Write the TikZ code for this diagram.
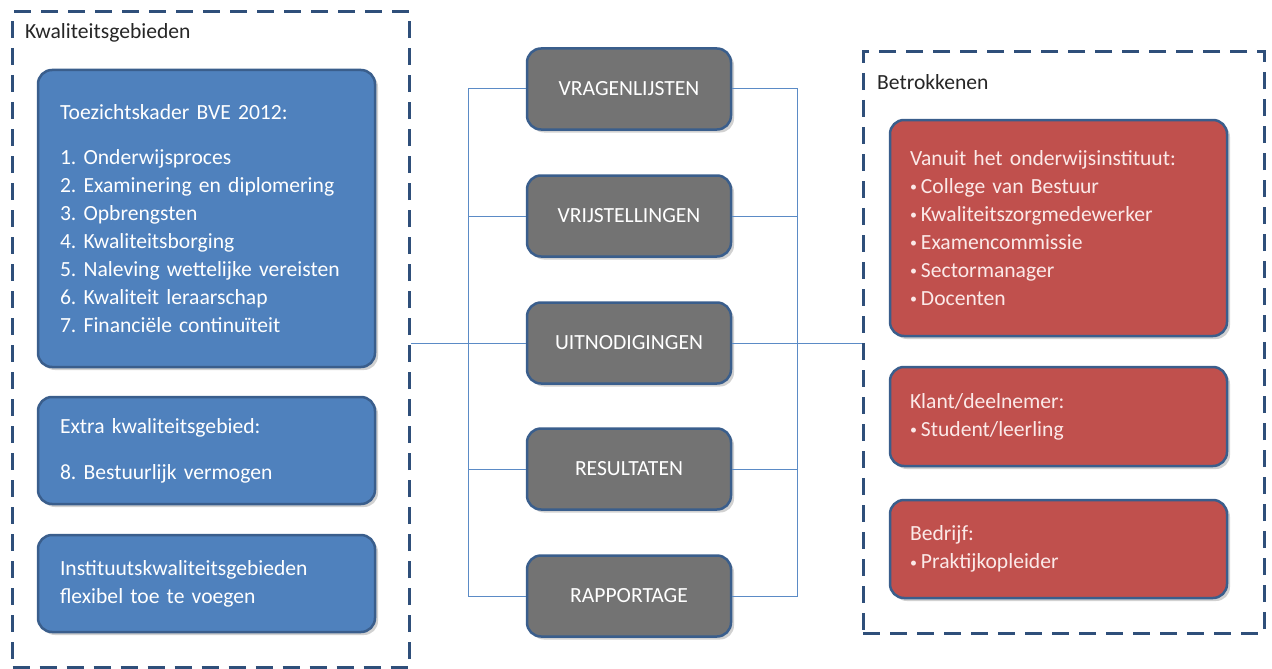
\documentclass[tikz,border=0pt]{standalone}
\usepackage{fontspec}
\setmainfont{Carlito}
\usetikzlibrary{shadows}
\frenchspacing
\definecolor{bfill}{HTML}{4F81BD}
\definecolor{bdraw}{HTML}{3A5E8C}
\definecolor{gfill}{HTML}{737373}
\definecolor{rfill}{HTML}{C0504D}
\definecolor{rtext}{HTML}{FBE9E8}
\definecolor{framec}{HTML}{2F4F7A}
\definecolor{connc}{HTML}{5B8BC6}
\newcommand\bul{{\fontsize{14}{14}\selectfont\raisebox{1.5pt}{•}}\hspace{4pt}}
\tikzset{
  boxbase/.style={draw=bdraw, line width=2.5pt, rounded corners=14pt, inner sep=0pt,
    drop shadow={shadow xshift=3pt, shadow yshift=-3pt, opacity=0.3, fill=black!60}},
  bluebox/.style={boxbase, fill=bfill, text=white, align=left, font=\fontsize{21.6}{28}\selectfont},
  redbox/.style={boxbase, fill=rfill, text=rtext, align=left, font=\fontsize{21.6}{28}\selectfont},
  graybox/.style={boxbase, fill=gfill, text=white, align=center, font=\fontsize{21.6}{24}\selectfont,
    minimum width=204pt, minimum height=81pt},
  framebox/.style={draw=framec, line width=3pt, dash pattern=on 17pt off 10pt, inner sep=0pt},
  conn/.style={draw=connc, line width=1pt},
  header/.style={anchor=west, text=black!85, font=\fontsize{21.6}{24}\selectfont, inner sep=0pt}
}
\begin{document}
\begin{tikzpicture}[x=1pt,y=-1pt]
\useasboundingbox (0,0) rectangle (1272,669);
% frames
\node[framebox, minimum width=397pt, minimum height=655pt] (lframe) at (211,339.5) {};
\node[framebox, minimum width=401pt, minimum height=581pt] (rframe) at (1063.5,342.5) {};
\node[header] (lhead) at (25,33) {Kwaliteitsgebieden};
\node[header] (rhead) at (877,82) {Betrokkenen};
% coordinates
\coordinate (L) at (468,0);
\coordinate (R) at (797,0);
\coordinate (g1c) at (629,89);
\coordinate (g2c) at (629,216);
\coordinate (g3c) at (629,343);
\coordinate (g4c) at (629,469);
\coordinate (g5c) at (629,596);
% blue boxes
\node[bluebox, minimum width=337pt, minimum height=297pt, text width=293pt] (b1) at (206.5,218.5)
{Toezichtskader BVE 2012:\\[17pt]
1. Onderwijsproces\\
2. Examinering en diplomering\\
3. Opbrengsten\\
4. Kwaliteitsborging\\
5. Naleving wettelijke vereisten\\
6. Kwaliteit leraarschap\\
7. Financiële continuïteit};
\node[bluebox, minimum width=337pt, minimum height=107pt, text width=293pt] (b2) at (206.5,450.5)
{Extra kwaliteitsgebied:\\[18pt]
8. Bestuurlijk vermogen};
\node[bluebox, minimum width=337pt, minimum height=97pt, text width=293pt] (b3) at (206.5,583.5)
{Instituutskwaliteitsgebieden\\
flexibel toe te voegen};
% gray boxes
\node[graybox] (g1) at (g1c) {VRAGENLIJSTEN};
\node[graybox] (g2) at (g2c) {VRIJSTELLINGEN};
\node[graybox] (g3) at (g3c) {UITNODIGINGEN};
\node[graybox] (g4) at (g4c) {RESULTATEN};
\node[graybox] (g5) at (g5c) {RAPPORTAGE};
% red boxes
\node[redbox, minimum width=337pt, minimum height=216pt, text width=297pt] (r1) at (1058.5,228)
{Vanuit het onderwijsinstituut:\\
\bul College van Bestuur\\
\bul Kwaliteitszorgmedewerker\\
\bul Examencommissie\\
\bul Sectormanager\\
\bul Docenten};
\node[redbox, minimum width=337pt, minimum height=99pt, text width=297pt] (r2) at (1058.5,416.5)
{Klant/deelnemer:\\
\bul Student/leerling};
\node[redbox, minimum width=337pt, minimum height=98pt, text width=297pt] (r3) at (1058.5,549)
{Bedrijf:\\
\bul Praktijkopleider};
% connectors
\draw[conn] (g1.west) -- (g1.west -| L) -- (g5.west -| L) -- (g5.west);
\draw[conn] (g2.west) -- (g2.west -| L);
\draw[conn] (g3.west) -- (g3.west -| lframe.east);
\draw[conn] (g4.west) -- (g4.west -| L);
\draw[conn] (g1.east) -- (g1.east -| R) -- (g5.east -| R) -- (g5.east);
\draw[conn] (g2.east) -- (g2.east -| R);
\draw[conn] (g3.east) -- (g3.east -| rframe.west);
\draw[conn] (g4.east) -- (g4.east -| R);
\end{tikzpicture}
\end{document}
